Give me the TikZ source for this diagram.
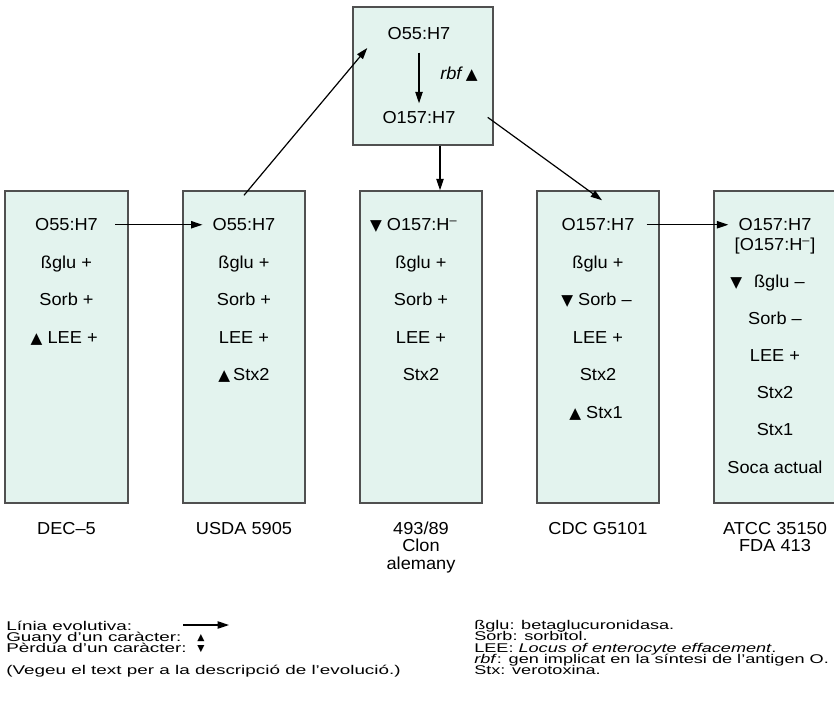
\documentclass[tikz,border=0pt]{standalone}
\usepackage{fontspec}
\setmainfont{Liberation Sans}[FakeStretch=1.05]
\newfontfamily\legfam{Liberation Sans}[FakeStretch=1.49]
\newfontfamily\legfamr{Liberation Sans}[FakeStretch=1.43]
\newfontfamily\symfam{DejaVu Sans}
\usetikzlibrary{arrows.meta}
\newlength{\px}\setlength{\px}{0.75pt}
\definecolor{boxfill}{RGB}{227,243,238}
\definecolor{boxline}{RGB}{80,80,80}
\newcommand{\boxfont}{\fontsize{13pt}{15pt}\selectfont}
\newcommand{\legfont}{\legfam\fontsize{9.5pt}{10pt}\selectfont}
\newcommand{\legfontr}{\legfamr\fontsize{9.5pt}{10pt}\selectfont}
\newcommand{\upb}{{\symfam\fontsize{11.5pt}{11.5pt}\selectfont ▲}}
\newcommand{\dnb}{{\symfam\fontsize{11.5pt}{11.5pt}\selectfont ▼}}
\newcommand{\upl}{{\symfam\fontsize{7pt}{7pt}\selectfont ▲}}
\newcommand{\dnl}{{\symfam\fontsize{7pt}{7pt}\selectfont ▼}}
\newcommand{\hsup}{\textsuperscript{–}}
\begin{document}
\begin{tikzpicture}[x=0.75pt,y=-0.75pt,
  box/.style={draw=boxline, fill=boxfill, line width=1.1pt, minimum width=122\px, minimum height=312\px, inner sep=0pt},
  row/.style={font=\boxfont, anchor=base, inner sep=0pt},
  leg/.style={font=\legfont, anchor=base west, inner sep=0pt},
  legr/.style={font=\legfontr, anchor=base west, inner sep=0pt},
  legsym/.style={anchor=base, inner sep=0pt},
  arr/.style={-{Triangle[length=8.5pt,width=5.5pt]}, line width=0.9pt}]
\useasboundingbox (0,0) rectangle (834,708);
\clip (0,0) rectangle (834,708);

% boxes
\node[box, minimum width=123\px] (B1) at (66.5,347) {};
\node[box] (B2) at (244,347) {};
\node[box] (B3) at (421,347) {};
\node[box] (B4) at (598,347) {};
\node[box] (B5) at (775,347) {};
\node[box, minimum width=140\px, minimum height=138\px] (T) at (423,76) {};

% top box
\node[row] (t1) at (419,39.3) {O55:H7};
\node[row] (t2) at (419,123.3) {O157:H7};
\node[row, anchor=base west] (t3) at (440,79) {\textit{rbf}\,\upb};

% box 1
\node[row] (a1) at (66.5,230.7) {O55:H7};
\node[row] (a2) at (66.5,268.2) {ßglu +};
\node[row] (a3) at (66.5,305.7) {Sorb +};
\node[row] (a4) at (64.2,343.2) {\upb\ LEE +};

% box 2
\node[row] (b1) at (244,230.7) {O55:H7};
\node[row] (b2) at (244,268.2) {ßglu +};
\node[row] (b3) at (244,305.7) {Sorb +};
\node[row] (b4) at (244,343.2) {LEE +};
\node[row] (b5) at (244,380.7) {\upb\,Stx2};

% box 3
\node[row] (c1) at (413.7,230.7) {\dnb\ O157:H\hsup};
\node[row] (c2) at (421,268.2) {ßglu +};
\node[row] (c3) at (421,305.7) {Sorb +};
\node[row] (c4) at (421,343.2) {LEE +};
\node[row] (c5) at (421,380.7) {Stx2};

% box 4
\node[row] (d1) at (598,230.7) {O157:H7};
\node[row] (d2) at (598,268.2) {ßglu +};
\node[row] (d3) at (596.5,305.7) {\dnb\ Sorb –};
\node[row] (d4) at (598,343.2) {LEE +};
\node[row] (d5) at (598,380.7) {Stx2};
\node[row] (d6) at (596,418.2) {\upb\ Stx1};

% box 5
\node[row] (e1) at (775,230.7) {O157:H7};
\node[row] (e2) at (775,250.7) {[O157:H\hsup]};
\node[row] (e3) at (767.5,287.3) {\dnb\hspace{9pt}ßglu –};
\node[row] (e4) at (775,324) {Sorb –};
\node[row] (e5) at (775,361.7) {LEE +};
\node[row] (e6) at (775,398.3) {Stx2};
\node[row] (e7) at (775,435.7) {Stx1};
\node[row] (e8) at (775,473.3) {Soca actual};

% labels under boxes
\node[row] (l1) at (66.5,534.3) {DEC–5};
\node[row] (l2) at (244,534.3) {USDA 5905};
\node[row] (l3a) at (421,534.3) {493/89};
\node[row] (l3b) at (421,551.8) {Clon};
\node[row] (l3c) at (421,569.3) {alemany};
\node[row] (l4) at (598,534.3) {CDC G5101};
\node[row] (l5a) at (775,534.3) {ATCC 35150};
\node[row] (l5b) at (775,551.8) {FDA 413};

% connectors
\draw[arr] ([xshift=17\px]a1.east) -- ([xshift=-10\px]b1.west);
\draw[arr] ([yshift=-5\px]B2.north) -- ([xshift=15\px,yshift=28\px]T.west);
\draw[arr] ([yshift=-13.4\px]t1.base) -- ([yshift=20\px]t2.base);
\draw[arr] ([xshift=32\px]t2.east) -- ([xshift=4\px,yshift=-10\px]B4.north);
\coordinate (v) at ([xshift=19\px]B3.north);
\draw[arr] (T.south -| v) -- (v);
\draw[arr] ([xshift=12\px]d1.east) -- ([xshift=-10\px]e1.west);

% legend left
\node[leg] (g1) at (6,630) {Línia evolutiva:};
\node[leg] (g2) at (6,641.2) {Guany d’un caràcter:};
\node[leg] (g3) at (6,652.4) {Pèrdua d’un caràcter:};
\node[leg] (g4) at (6,674) {(Vegeu el text per a la descripció de l’evolució.)};
\coordinate (la) at (183,625);
\coordinate (lb) at (229,625);
\draw[arr] (la) -- (lb);
\node[legsym] (gu) at (201,640.5) {\upl};
\node[legsym] (gd) at (201,651.7) {\dnl};

% legend right
\node[legr] (h1) at (474,629.5) {ßglu: betaglucuronidasa.};
\node[legr] (h2) at (474,640.8) {Sorb: sorbitol.};
\node[legr] (h3) at (474,652) {LEE: \textit{Locus of enterocyte effacement}.};
\node[legr] (h4) at (474,663.3) {\textit{rbf}: gen implicat en la síntesi de l’antigen O.};
\node[legr] (h5) at (474,674.5) {Stx: verotoxina.};
\end{tikzpicture}
\end{document}
